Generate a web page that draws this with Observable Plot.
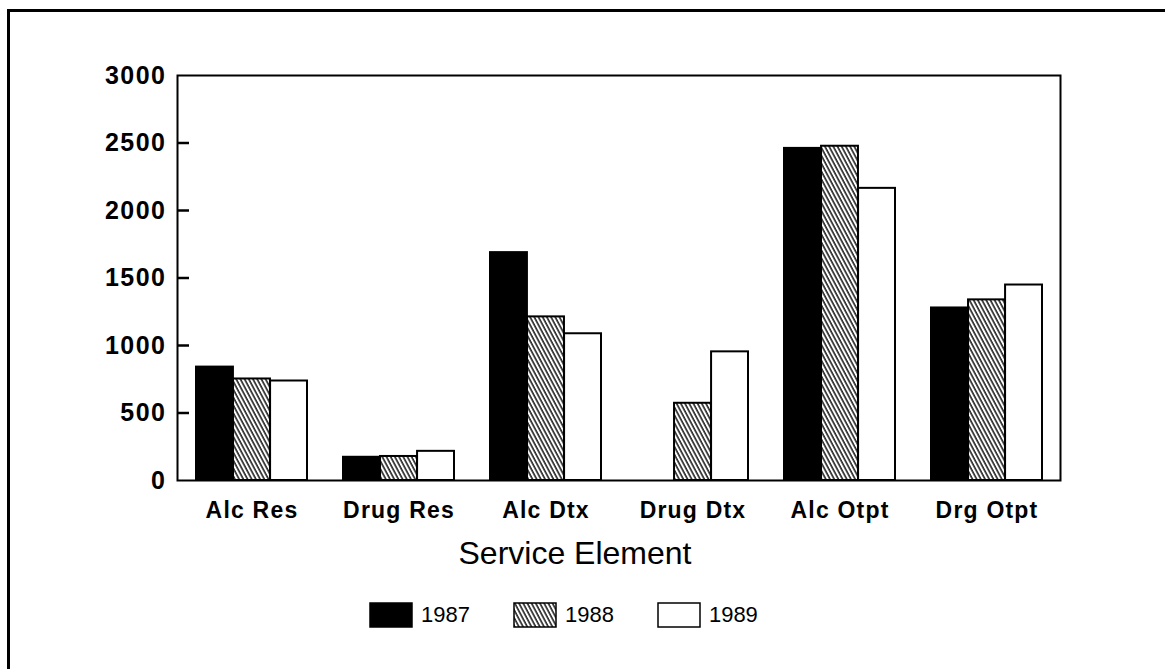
<!DOCTYPE html>
<html>
<head>
<meta charset="utf-8">
<script src="https://cdn.jsdelivr.net/npm/d3@7"></script>
<script src="https://cdn.jsdelivr.net/npm/@observablehq/plot@0.6"></script>
<style>
  html, body { margin: 0; padding: 0; background: #fff; }
  body { width: 1165px; height: 669px; position: relative; overflow: hidden; font-family: "Liberation Sans", Arial, sans-serif; color: #000; }
  #border { position: absolute; left: 7px; top: 9px; right: -10px; bottom: -10px; border-top: 3px solid #000; border-left: 3px solid #000; }
  #chart { position: absolute; left: 0; top: 0; }
  #title { position: absolute; left: 0; width: 1150px; top: 535px; text-align: center; font-size: 32px; }
  #legend { position: absolute; top: 602px; left: 369px; display: flex; align-items: center; font-size: 22px; }
  #legend .item { display: flex; align-items: center; margin-right: 43px; }
  #legend svg { margin-right: 8px; }
  g[aria-label="y-axis tick label"] text { letter-spacing: 1.5px; }
  g[aria-label="x-axis tick label"] text { letter-spacing: 1.2px; }
</style>
</head>
<body>
<div id="border"></div>
<div id="chart"></div>
<div id="title">Service Element</div>
<div id="legend"></div>
<script>
// ---- data ----
const categories = ["Alc Res", "Drug Res", "Alc Dtx", "Drug Dtx", "Alc Otpt", "Drg Otpt"];
const years = ["1987", "1988", "1989"];
const values1987 = [840, 172, 1688, 0, 2460, 1278];
const values1988 = [752, 178, 1212, 572, 2476, 1338];
const values1989 = [737, 216, 1087, 953, 2164, 1448];
const yTicks = [0, 500, 1000, 1500, 2000, 2500, 3000];
const xLabel = "Service Element";

const seriesValues = [values1987, values1988, values1989];
const fills = ["#000", "url(#hatch)", "#fff"];
const rows = years.flatMap((y, j) => categories.map((c, i) => ({category: c, year: y, value: seriesValues[j][i]})));

// ---- layout ----
const W = 1165, H = 669;
const mL = 177, mR = 105, mT = 75, mB = 189;
const plotW = W - mL - mR;
const padInner = 0.245, padOuter = 0.1225;
const step = plotW / (categories.length - padInner + 2 * padOuter);
const bw = step * (1 - padInner);
const sub = bw / years.length;

const barMarks = years.map((y, j) => Plot.barY(rows.filter(r => r.year === y), {
  x: "category",
  y: "value",
  fill: fills[j],
  stroke: "#000",
  strokeWidth: 2,
  insetLeft: sub * j,
  insetRight: sub * (years.length - 1 - j)
}));

const innerTicks = yTicks.slice(1, -1);

const chart = Plot.plot({
  width: W,
  height: H,
  marginLeft: mL,
  marginRight: mR,
  marginTop: mT,
  marginBottom: mB,
  style: {fontFamily: "Liberation Sans, Arial, sans-serif", color: "#000", background: "transparent"},
  x: {domain: categories, paddingInner: padInner, paddingOuter: padOuter},
  y: {domain: [0, 3000]},
  marks: [
    ...barMarks,
    Plot.frame({stroke: "#000", strokeWidth: 2}),
    Plot.ruleY(innerTicks, {y: d => d, insetRight: plotW - 12, stroke: "#000", strokeWidth: 2.5}),
    Plot.axisY({ticks: yTicks, tickSize: 0, tickPadding: 11, fontSize: 25, fontWeight: "bold", tickFormat: d => String(d), label: null}),
    Plot.axisX({tickSize: 0, tickPadding: 21, fontSize: 23, fontWeight: "bold", label: null})
  ]
});

// hatch pattern definition
const svgNS = "http://www.w3.org/2000/svg";
function addHatch(svg, id) {
  const defs = document.createElementNS(svgNS, "defs");
  defs.innerHTML = `<pattern id="${id}" patternUnits="userSpaceOnUse" width="3.7" height="10" patternTransform="rotate(-28)">
    <rect width="3.7" height="10" fill="#fff"/>
    <line x1="1" y1="-1" x2="1" y2="11" stroke="#000" stroke-width="1.4"/>
  </pattern>`;
  svg.insertBefore(defs, svg.firstChild);
}
addHatch(chart, "hatch");
document.getElementById("chart").appendChild(chart);
document.getElementById("title").textContent = xLabel;

// legend
const legend = document.getElementById("legend");
years.forEach((y, j) => {
  const item = document.createElement("div");
  item.className = "item";
  const s = document.createElementNS(svgNS, "svg");
  s.setAttribute("width", 44);
  s.setAttribute("height", 26);
  if (j === 1) addHatch(s, "hatchL");
  const r = document.createElementNS(svgNS, "rect");
  r.setAttribute("x", 1); r.setAttribute("y", 1);
  r.setAttribute("width", 42); r.setAttribute("height", 24);
  r.setAttribute("fill", j === 1 ? "url(#hatchL)" : fills[j]);
  r.setAttribute("stroke", "#000");
  r.setAttribute("stroke-width", 1.5);
  s.appendChild(r);
  item.appendChild(s);
  const t = document.createElement("span");
  t.textContent = y;
  item.appendChild(t);
  legend.appendChild(item);
});
</script>
</body>
</html>
